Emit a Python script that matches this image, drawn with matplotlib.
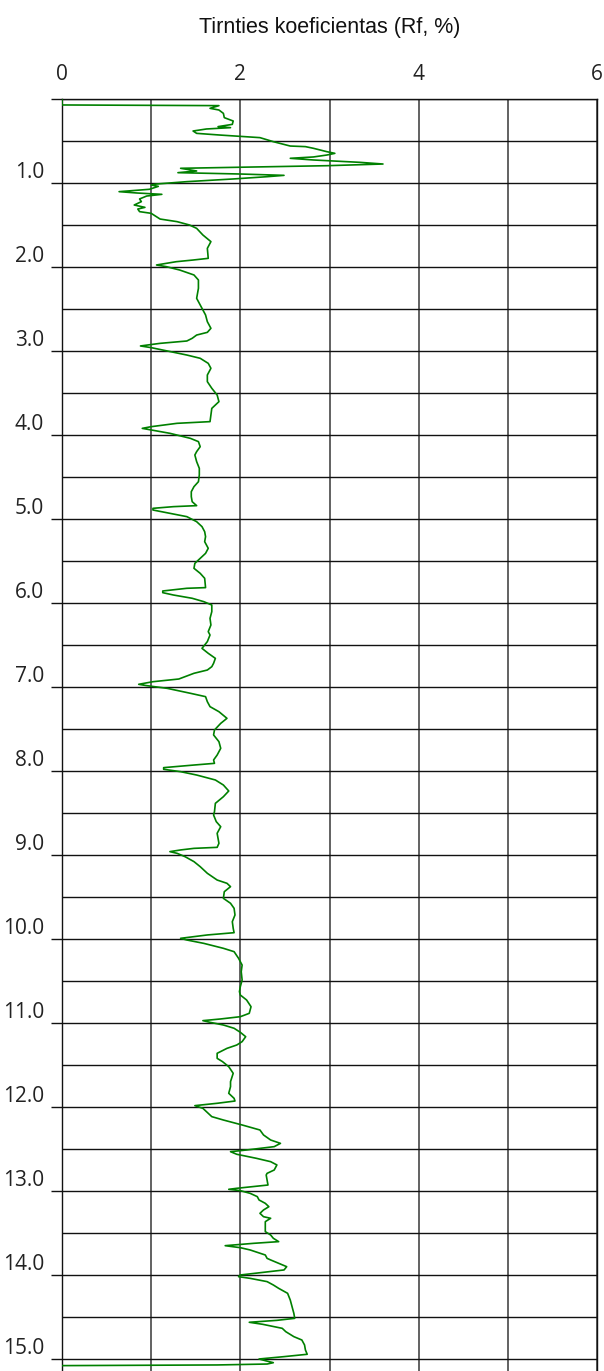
import numpy as np
import matplotlib
matplotlib.use("Agg")
import matplotlib.pyplot as plt

# gylis (m) ir trinties koeficientas Rf (%), nuskaityta nuo grafiko
depth = [0.0, 0.071, 0.079, 0.111, 0.131, 0.171, 0.222, 0.262, 0.302, 0.329, 0.341,
         0.357, 0.381, 0.409, 0.429, 0.460, 0.508, 0.560, 0.567, 0.587, 0.627, 0.647,
         0.667, 0.690, 0.706, 0.726, 0.754, 0.774, 0.794, 0.813, 0.825, 0.857, 0.877,
         0.893, 0.909, 0.925, 0.952, 0.984, 1.012, 1.024, 1.040, 1.075, 1.103, 1.119,
         1.135, 1.155, 1.190, 1.222, 1.262, 1.290, 1.310, 1.341, 1.361, 1.429, 1.460,
         1.500, 1.540, 1.619, 1.698, 1.778, 1.897, 1.917, 1.937, 1.976, 1.996, 2.036,
         2.095, 2.155, 2.254, 2.373, 2.413, 2.492, 2.571, 2.651, 2.730, 2.778, 2.810,
         2.849, 2.881, 2.909, 2.940, 2.960, 3.000, 3.048, 3.087, 3.147, 3.206, 3.286,
         3.365, 3.444, 3.524, 3.603, 3.683, 3.762, 3.841, 3.861, 3.901, 3.921, 3.940,
         3.980, 4.040, 4.079, 4.139, 4.198,
         4.238, 4.317, 4.397, 4.476, 4.556, 4.615, 4.675, 4.734, 4.794, 4.841, 4.853,
         4.873, 4.893, 4.933, 4.972, 5.032, 5.091, 5.151, 5.210, 5.270, 5.349, 5.409,
         5.468, 5.528, 5.587, 5.647, 5.706, 5.817, 5.825, 5.857, 5.877, 5.905, 5.944,
         5.984, 6.024, 6.103, 6.183, 6.262, 6.341,
         6.381, 6.460, 6.540, 6.599, 6.659, 6.718, 6.758, 6.798, 6.837, 6.877, 6.905,
         6.937, 6.968, 6.984, 7.016, 7.075, 7.115, 7.175, 7.234, 7.294, 7.373, 7.433,
         7.512, 7.571, 7.651, 7.730, 7.810, 7.869, 7.909, 7.929, 7.960, 7.980, 8.008,
         8.048, 8.107, 8.167, 8.238, 8.306, 8.385, 8.484,
         8.524, 8.603, 8.663, 8.742, 8.802, 8.861, 8.909, 8.921, 8.940, 8.960, 8.980,
         9.020, 9.079, 9.139, 9.218, 9.298, 9.337, 9.377, 9.437, 9.516, 9.575, 9.635,
         9.714, 9.794, 9.873, 9.925, 9.952, 9.992, 10.012, 10.052, 10.111, 10.151,
         10.230, 10.310, 10.389, 10.488, 10.567, 10.627,
         10.667, 10.726, 10.806, 10.885, 10.925, 10.952, 10.972, 10.992, 11.024, 11.063,
         11.111, 11.163, 11.222, 11.262, 11.302, 11.361, 11.421, 11.460, 11.520, 11.599,
         11.698, 11.758, 11.837, 11.897, 11.929, 11.956, 11.984, 12.016, 12.075, 12.115,
         12.155, 12.214, 12.274, 12.333, 12.393, 12.433, 12.472, 12.512, 12.532, 12.563,
         12.611, 12.651, 12.690, 12.750, 12.790,
         12.810, 12.869, 12.929, 12.968, 12.980, 12.996, 13.028, 13.067, 13.107, 13.147,
         13.187, 13.226, 13.266, 13.306, 13.325, 13.365, 13.425, 13.484, 13.524, 13.563,
         13.603, 13.623, 13.651, 13.675, 13.702, 13.730, 13.762, 13.802, 13.821, 13.861,
         13.901, 13.940, 13.968, 14.000, 14.020, 14.040, 14.079, 14.119, 14.159, 14.218,
         14.298, 14.377, 14.456, 14.516, 14.540, 14.563, 14.587, 14.635, 14.675, 14.734,
         14.774, 14.833, 14.893, 14.944, 14.972, 15.000, 15.020, 15.044, 15.060, 15.071,
         15.079]

rf = [0.0, 0.0, 1.76, 1.66, 1.76, 1.81, 1.82, 1.92, 1.91, 1.75, 1.89,
      1.62, 1.47, 1.51, 1.77, 2.22, 2.37, 2.56, 2.73, 2.82, 2.97, 3.06,
      2.97, 2.82, 2.56, 2.82, 3.34, 3.60, 2.97, 2.00, 1.33, 1.51, 1.30,
      2.00, 2.49, 2.30, 1.92, 1.40, 1.06, 1.00, 1.08, 0.98, 0.64, 0.84,
      1.12, 0.95, 0.87, 0.89, 0.81, 0.93, 0.85, 0.87, 1.00, 1.10, 1.29,
      1.43, 1.51, 1.58, 1.67, 1.63, 1.64, 1.47, 1.28, 1.06, 1.17, 1.32,
      1.48, 1.53, 1.53, 1.51, 1.53, 1.57, 1.61, 1.63, 1.67, 1.63, 1.51,
      1.46, 1.40, 1.10, 0.88, 1.00, 1.18, 1.40, 1.55, 1.64, 1.67, 1.63,
      1.63, 1.68, 1.74, 1.76, 1.68, 1.67, 1.66, 1.29, 1.00, 0.90, 1.00,
      1.21, 1.44, 1.53, 1.55, 1.51,
      1.49, 1.51, 1.54, 1.54, 1.53, 1.48, 1.45, 1.45, 1.46, 1.51, 1.25,
      1.02, 1.02, 1.21, 1.40, 1.51, 1.57, 1.60, 1.61, 1.60, 1.64, 1.61,
      1.55, 1.49, 1.48, 1.55, 1.60, 1.61, 1.40, 1.13, 1.13, 1.25, 1.46,
      1.59, 1.68, 1.68, 1.66, 1.67, 1.64,
      1.66, 1.63, 1.57, 1.64, 1.72, 1.70, 1.68, 1.63, 1.48, 1.38, 1.31,
      1.02, 0.86, 0.95, 1.18, 1.44, 1.61, 1.63, 1.66, 1.76, 1.85, 1.78,
      1.71, 1.70, 1.76, 1.78, 1.74, 1.70, 1.71, 1.48, 1.14, 1.14, 1.33,
      1.51, 1.72, 1.81, 1.87, 1.81, 1.72, 1.71,
      1.70, 1.73, 1.78, 1.74, 1.75, 1.76, 1.74, 1.48, 1.33, 1.21, 1.29,
      1.38, 1.48, 1.55, 1.63, 1.74, 1.85, 1.89, 1.82, 1.81, 1.89, 1.93,
      1.94, 1.91, 1.92, 1.93, 1.63, 1.33, 1.40, 1.59, 1.81, 1.93,
      1.98, 2.02, 2.01, 2.02, 2.00, 1.99,
      2.00, 2.07, 2.12, 2.10, 2.00, 1.78, 1.58, 1.66, 1.81, 1.93,
      2.00, 2.06, 2.02, 1.96, 1.85, 1.74, 1.74, 1.80, 1.87, 1.92,
      1.89, 1.89, 1.87, 1.93, 1.94, 1.74, 1.49, 1.58, 1.64, 1.68,
      1.81, 2.02, 2.22, 2.26, 2.34, 2.45, 2.38, 2.07, 1.89, 1.96,
      2.18, 2.34, 2.41, 2.38, 2.30,
      2.29, 2.30, 2.31, 1.96, 1.87, 2.00, 2.11, 2.19, 2.21, 2.28,
      2.32, 2.26, 2.22, 2.26, 2.34, 2.28, 2.28, 2.28, 2.34, 2.37,
      2.43, 2.15, 1.83, 2.00, 2.11, 2.19, 2.28, 2.30, 2.34, 2.43,
      2.52, 2.49, 2.26, 2.00, 1.98, 2.11, 2.30, 2.37, 2.43, 2.53,
      2.56, 2.58, 2.60, 2.61, 2.41, 2.10, 2.25, 2.47, 2.51, 2.60,
      2.69, 2.72, 2.73, 2.75, 2.49, 2.21, 2.28, 2.37, 2.30, 1.74,
      0.0]

x_ticks = [0, 2, 4, 6]
x_grid = [1, 3, 5]
y_ticks = list(range(0, 16))
y_labels = [""] + ["%.1f" % v for v in range(1, 16)]
y_half = [v + 0.5 for v in range(0, 15)]

fig = plt.figure(figsize=(6.04, 13.71), dpi=100)
ax = fig.add_axes([62/604, 0, 535/604, 1 - 99/1371])

ax.plot(rf, depth, color="#008000", lw=1.2, zorder=3)

ax.set_xlim(0, 6)
ax.set_ylim(15.143, 0)

ax.xaxis.tick_top()
ax.set_xticks(x_ticks)
ax.set_xticks(x_grid, minor=True)
ax.set_yticks(y_ticks)
ax.set_yticklabels(y_labels)
ax.set_yticks(y_half, minor=True)

ax.grid(True, which="both", axis="x", color="#555555", lw=1.3)
ax.grid(True, which="both", axis="y", color="#111111", lw=1.0)

ax.tick_params(axis="x", which="both", length=0, pad=10, labelsize=15, labelcolor="#222222")
ax.tick_params(axis="y", which="major", length=8, width=1, pad=5, labelsize=15,
               labelcolor="#222222", color="#111111")
ax.tick_params(axis="y", which="minor", length=0)
for lbl in ax.get_xticklabels() + ax.get_yticklabels():
    lbl.set_fontfamily("Open Sans")
for lbl in ax.get_yticklabels():
    lbl.set_va("bottom")

ax.spines["bottom"].set_visible(False)
for s in ["top", "left", "right"]:
    ax.spines[s].set_color("#111111")
    ax.spines[s].set_linewidth(1.0)

fig.text((62 + 535/2)/604, 1 - 28/1371, "Tirnties koeficientas (Rf, %)",
         ha="center", va="center", fontsize=15.5, family="Liberation Sans", color="#111111")

fig.savefig("out.png", dpi=100)
